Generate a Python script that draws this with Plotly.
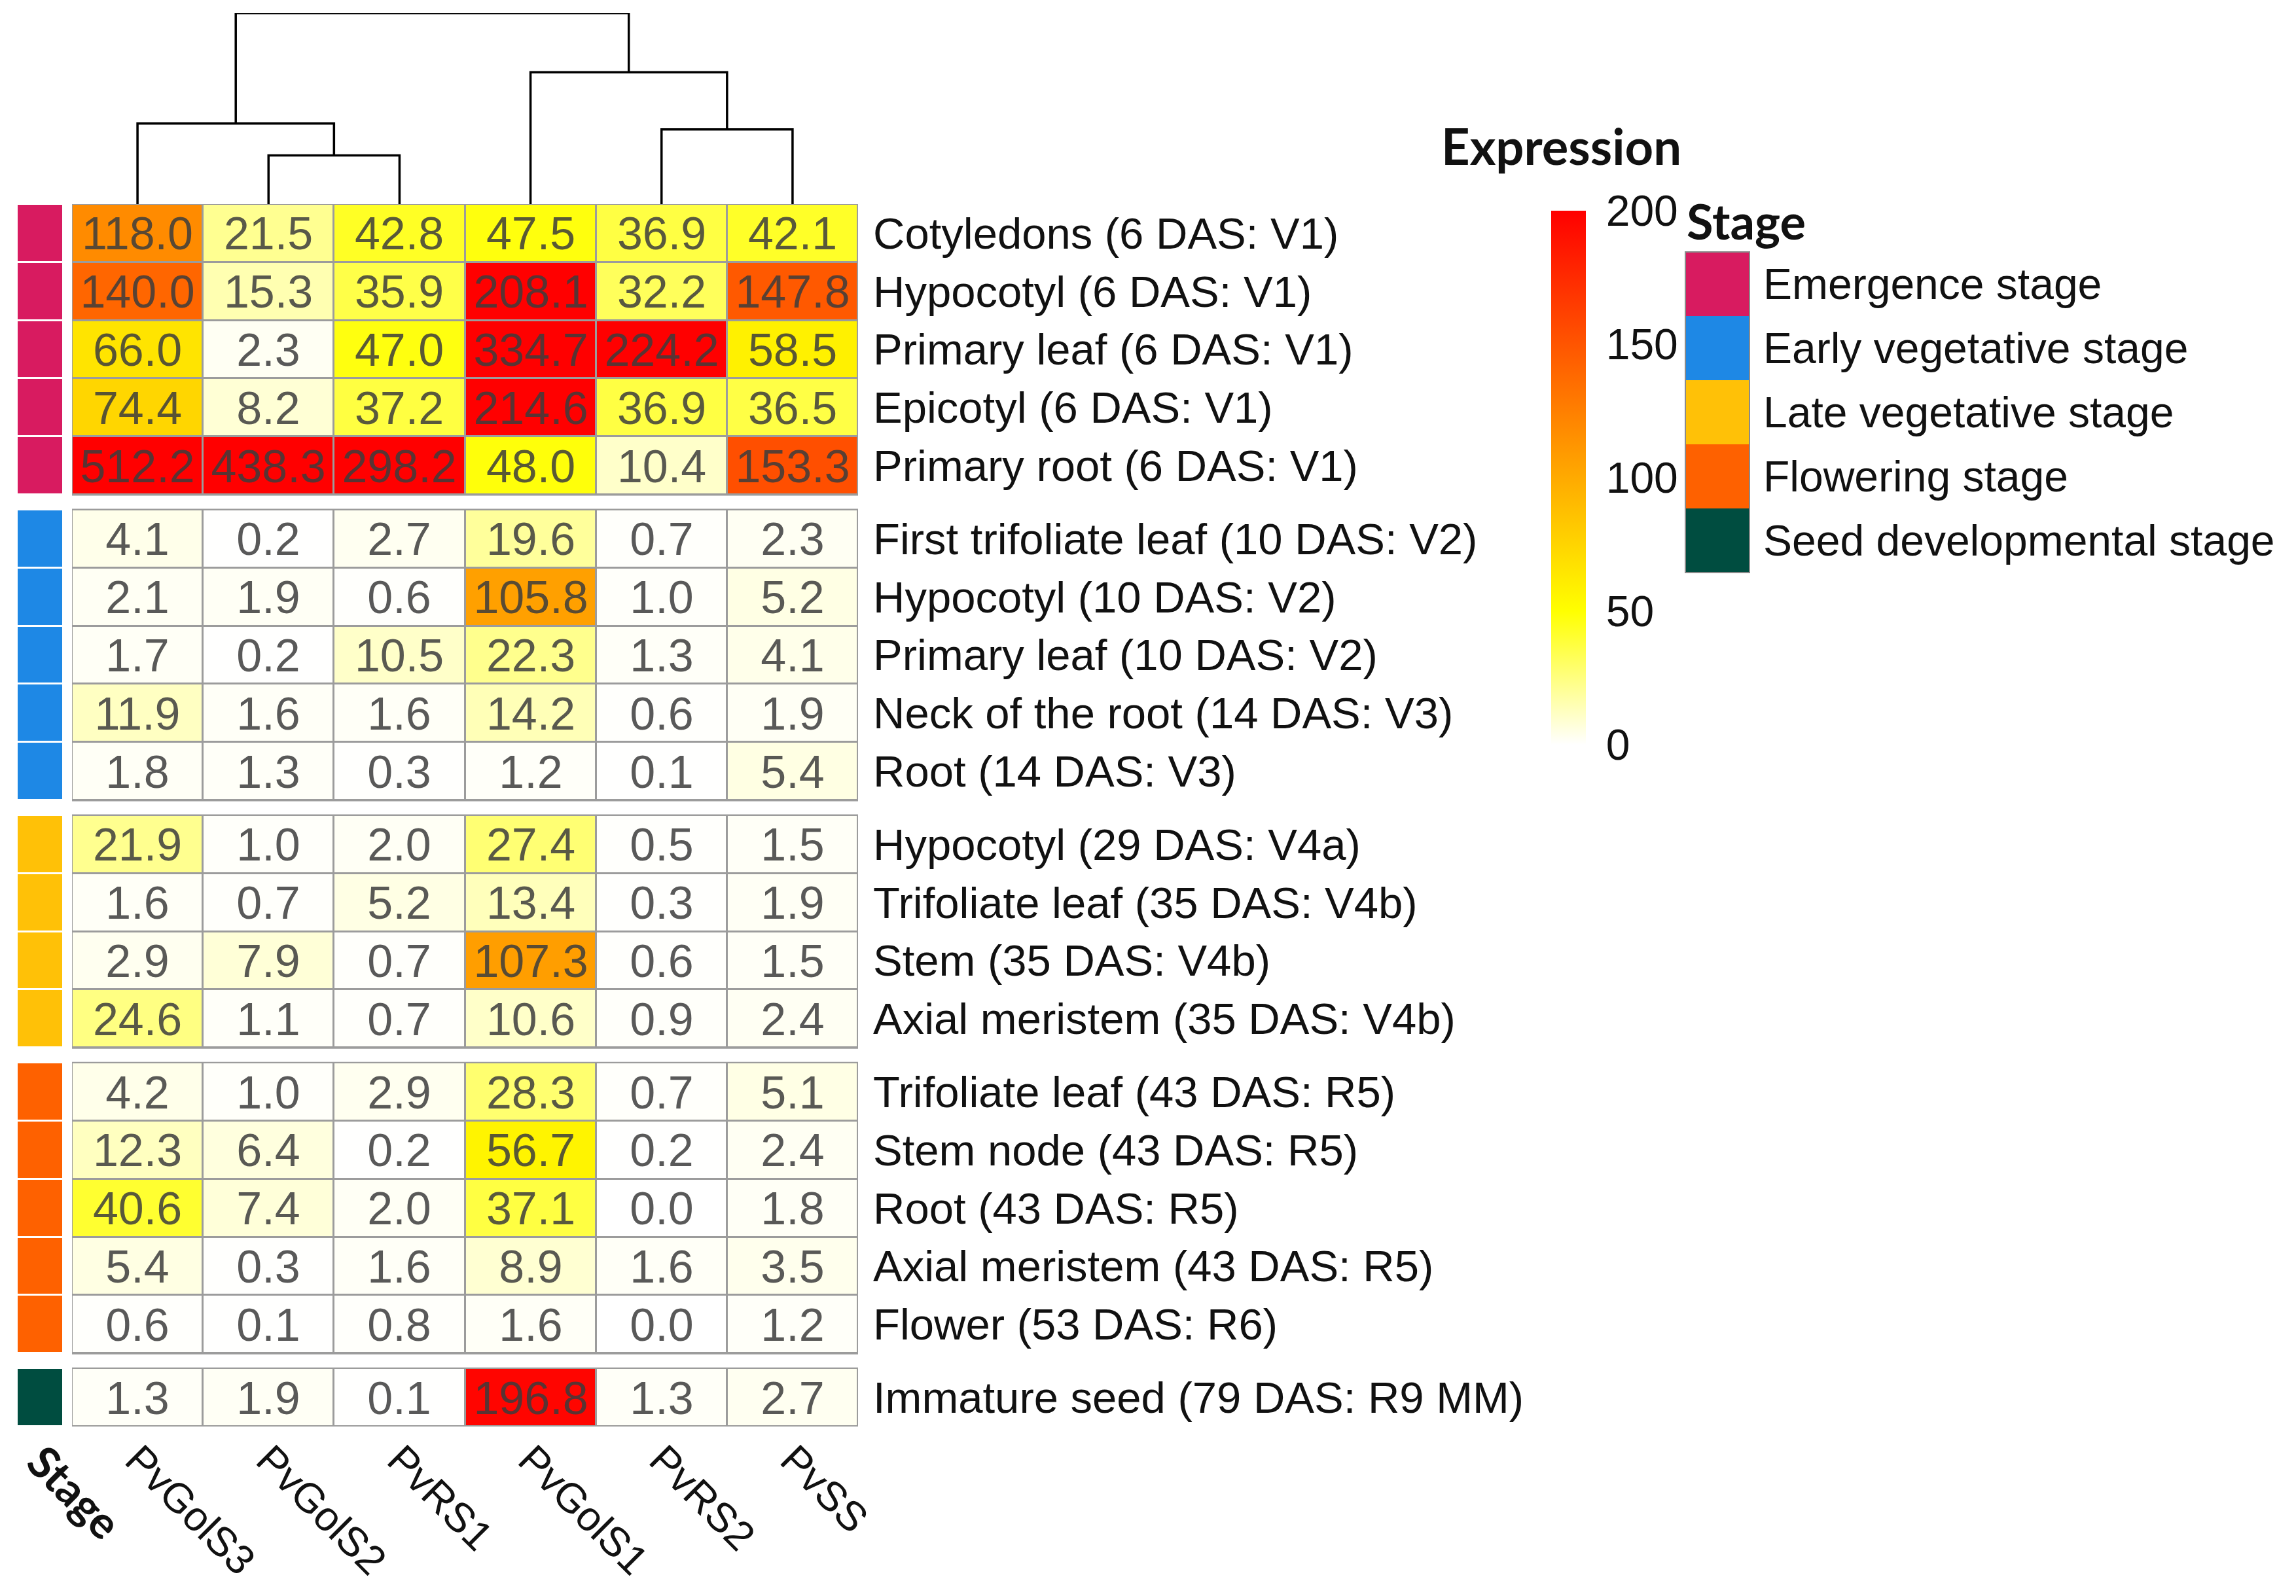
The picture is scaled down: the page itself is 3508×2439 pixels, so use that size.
import plotly.graph_objects as go

# ---------------- data ----------------
genes = ["PvGolS3", "PvGolS2", "PvRS1", "PvGolS1", "PvRS2", "PvSS"]

tissues = [
    "Cotyledons (6 DAS: V1)", "Hypocotyl (6 DAS: V1)", "Primary leaf (6 DAS: V1)",
    "Epicotyl (6 DAS: V1)", "Primary root (6 DAS: V1)",
    "First trifoliate leaf (10 DAS: V2)", "Hypocotyl (10 DAS: V2)", "Primary leaf (10 DAS: V2)",
    "Neck of the root (14 DAS: V3)", "Root (14 DAS: V3)",
    "Hypocotyl (29 DAS: V4a)", "Trifoliate leaf (35 DAS: V4b)", "Stem (35 DAS: V4b)",
    "Axial meristem (35 DAS: V4b)",
    "Trifoliate leaf (43 DAS: R5)", "Stem node (43 DAS: R5)", "Root (43 DAS: R5)",
    "Axial meristem (43 DAS: R5)", "Flower (53 DAS: R6)",
    "Immature seed (79 DAS: R9 MM)",
]

PvGolS3 = [118.0, 140.0, 66.0, 74.4, 512.2, 4.1, 2.1, 1.7, 11.9, 1.8,
           21.9, 1.6, 2.9, 24.6, 4.2, 12.3, 40.6, 5.4, 0.6, 1.3]
PvGolS2 = [21.5, 15.3, 2.3, 8.2, 438.3, 0.2, 1.9, 0.2, 1.6, 1.3,
           1.0, 0.7, 7.9, 1.1, 1.0, 6.4, 7.4, 0.3, 0.1, 1.9]
PvRS1 = [42.8, 35.9, 47.0, 37.2, 298.2, 2.7, 0.6, 10.5, 1.6, 0.3,
         2.0, 5.2, 0.7, 0.7, 2.9, 0.2, 2.0, 1.6, 0.8, 0.1]
PvGolS1 = [47.5, 208.1, 334.7, 214.6, 48.0, 19.6, 105.8, 22.3, 14.2, 1.2,
           27.4, 13.4, 107.3, 10.6, 28.3, 56.7, 37.1, 8.9, 1.6, 196.8]
PvRS2 = [36.9, 32.2, 224.2, 36.9, 10.4, 0.7, 1.0, 1.3, 0.6, 0.1,
         0.5, 0.3, 0.6, 0.9, 0.7, 0.2, 0.0, 1.6, 0.0, 1.3]
PvSS = [42.1, 147.8, 58.5, 36.5, 153.3, 2.3, 5.2, 4.1, 1.9, 5.4,
        1.5, 1.9, 1.5, 2.4, 5.1, 2.4, 1.8, 3.5, 1.2, 2.7]
series = [PvGolS3, PvGolS2, PvRS1, PvGolS1, PvRS2, PvSS]

stages = ["Emergence stage", "Early vegetative stage", "Late vegetative stage",
          "Flowering stage", "Seed developmental stage"]
stage_sizes = [5, 5, 4, 5, 1]
stage_colors = ["#D81B60", "#1E88E5", "#FFC107", "#FE6100", "#004D40"]

# column dendrogram (child a, child b, merge height)
merges = [("PvGolS2", "PvRS1", 75), ("PvGolS3", "m0", 124),
          ("PvRS2", "PvSS", 115), ("PvGolS1", "m2", 203), ("m1", "m3", 294)]

colorbar_ticks = [0, 50, 100, 150, 200]

# ---------------- build matrices with group gaps ----------------
GAP = 0.26
z_rows, t_rows, s_rows, edges = [], [], [], [0.0]
centers, group_spans = [], []
r = 0
for gi, n in enumerate(stage_sizes):
    start = edges[-1]
    for _ in range(n):
        vals = [col[r] for col in series]
        z_rows.append(vals)
        t_rows.append([f"{v:.1f}" for v in vals])
        s_rows.append([gi])
        centers.append(edges[-1] + 0.5)
        edges.append(edges[-1] + 1)
        r += 1
    group_spans.append((start, edges[-1]))
    if gi < len(stage_sizes) - 1:
        z_rows.append([None] * len(genes))
        t_rows.append([""] * len(genes))
        s_rows.append([None])
        edges.append(edges[-1] + GAP)

W, H = 3508, 2439
FONT = "Liberation Sans, Arial, sans-serif"
BOLD = "Lato, Open Sans, sans-serif"

hm_x = [110 / W, 1311 / W]
ann_x = [27 / W, 95 / W]
hm_y = [1 - 2180 / H, 1 - 312 / H]
dend_y = [1 - 312 / H, 1 - 20 / H]

colorscale = [[0.0, "#FFFFFF"], [0.25, "#FFFF00"], [1.0, "#FF0000"]]

fig = go.Figure()

fig.add_trace(go.Heatmap(
    z=z_rows, x=list(range(len(genes))), y=edges,
    text=t_rows, texttemplate="%{text}",
    textfont=dict(family=FONT, size=70, color="rgba(60,60,60,0.85)"),
    colorscale=colorscale, zmin=0, zmax=200,
    xgap=3, ygap=3, xaxis="x", yaxis="y", hoverongaps=False,
    colorbar=dict(
        x=2360 / W, xanchor="left", y=1 - 312 / H, yanchor="top",
        len=836 / H, lenmode="fraction", thickness=53,
        outlinewidth=0, tickvals=colorbar_ticks,
        ticks="outside", ticklen=18, tickcolor="rgba(0,0,0,0)",
        tickfont=dict(family=FONT, size=66, color="#111"),
    ),
))

# stage annotation column
n_st = len(stages)
disc = []
for i, c in enumerate(stage_colors):
    disc.append([i / n_st, c])
    disc.append([(i + 1) / n_st, c])
fig.add_trace(go.Heatmap(
    z=s_rows, x=[0], y=edges, colorscale=disc, zmin=-0.5, zmax=n_st - 0.5,
    showscale=False, ygap=3, xaxis="x2", yaxis="y", hoverongaps=False,
))

# dendrogram
pos = {g: (i, 0.0) for i, g in enumerate(genes)}
dx, dy = [], []
for k, (a, b, h) in enumerate(merges):
    xa, ha = pos[a]
    xb, hb = pos[b]
    dx += [xa, xa, xb, xb, None]
    dy += [ha, h, h, hb, None]
    pos[f"m{k}"] = ((xa + xb) / 2, h)
fig.add_trace(go.Scatter(x=dx, y=dy, mode="lines", line=dict(color="black", width=3.5),
                         xaxis="x", yaxis="y3", hoverinfo="skip", showlegend=False))

shapes = []
for (y0, y1) in group_spans:
    shapes.append(dict(type="rect", xref="x", yref="y", x0=-0.5, x1=len(genes) - 0.5,
                       y0=y0, y1=y1, fillcolor="#9C9C9C",
                       line=dict(color="#9C9C9C", width=3), layer="below"))

# stage legend
lx0, lx1 = 2575 / W, 2673 / W
ltop, lh = 385 / H, 98 / H
annotations = []
for i, (name, col) in enumerate(zip(stages, stage_colors)):
    y1 = 1 - ltop - i * lh
    y0 = y1 - lh
    shapes.append(dict(type="rect", xref="paper", yref="paper", x0=lx0, x1=lx1, y0=y0, y1=y1,
                       fillcolor=col, line=dict(width=0)))
    annotations.append(dict(xref="paper", yref="paper", x=2692 / W, y=(y0 + y1) / 2,
                            text=name, showarrow=False, xanchor="left", yanchor="middle",
                            font=dict(family=FONT, size=66, color="#111")))
shapes.append(dict(type="rect", xref="paper", yref="paper", x0=lx0, x1=lx1,
                   y0=1 - ltop - n_st * lh, y1=1 - ltop,
                   fillcolor="rgba(0,0,0,0)", line=dict(color="#8A8A8A", width=2)))
annotations.append(dict(xref="paper", yref="paper", x=lx0, y=1 - 337 / H, text="<b>Stage</b>",
                        showarrow=False, xanchor="left", yanchor="middle",
                        font=dict(family=BOLD, size=74, color="#111")))
annotations.append(dict(xref="paper", yref="paper", x=2385 / W, y=1 - 223 / H,
                        text="<b>Expression</b>", showarrow=False, xanchor="center",
                        yanchor="middle", font=dict(family=BOLD, size=76, color="#111")))

fig.update_layout(
    width=W, height=H, margin=dict(l=0, r=0, t=0, b=0, autoexpand=False),
    paper_bgcolor="white", plot_bgcolor="white", showlegend=False,
    font=dict(family=FONT, color="#111"),
    xaxis=dict(domain=hm_x, anchor="y", range=[-0.5, len(genes) - 0.5],
               tickmode="array", tickvals=list(range(len(genes))), ticktext=genes,
               tickangle=45, tickfont=dict(family=FONT, size=63, color="#111"),
               showgrid=False, zeroline=False, showline=False, ticks="",
               ticklabelstandoff=0, automargin=False),
    xaxis2=dict(domain=ann_x, anchor="y", range=[-0.5, 0.5],
                tickmode="array", tickvals=[0], ticktext=["<b>Stage</b>"],
                tickangle=45, tickfont=dict(family=BOLD, size=68, color="#111"),
                showgrid=False, zeroline=False, showline=False, ticks="",
                ticklabelstandoff=0, automargin=False),
    yaxis=dict(domain=hm_y, anchor="x", side="right", range=[edges[-1], 0],
               tickmode="array", tickvals=centers, ticktext=tissues,
               tickfont=dict(family=FONT, size=67, color="#111"),
               showgrid=False, zeroline=False, showline=False, ticks="",
               ticklabelstandoff=22, automargin=False),
    yaxis3=dict(domain=dend_y, anchor="x", range=[0, merges[-1][2]],
                visible=False, showgrid=False, zeroline=False),
    shapes=shapes, annotations=annotations,
)

fig.write_html("out.html", config={"displayModeBar": False},
               post_script="document.body.style.margin='0';document.body.style.overflow='hidden';")
